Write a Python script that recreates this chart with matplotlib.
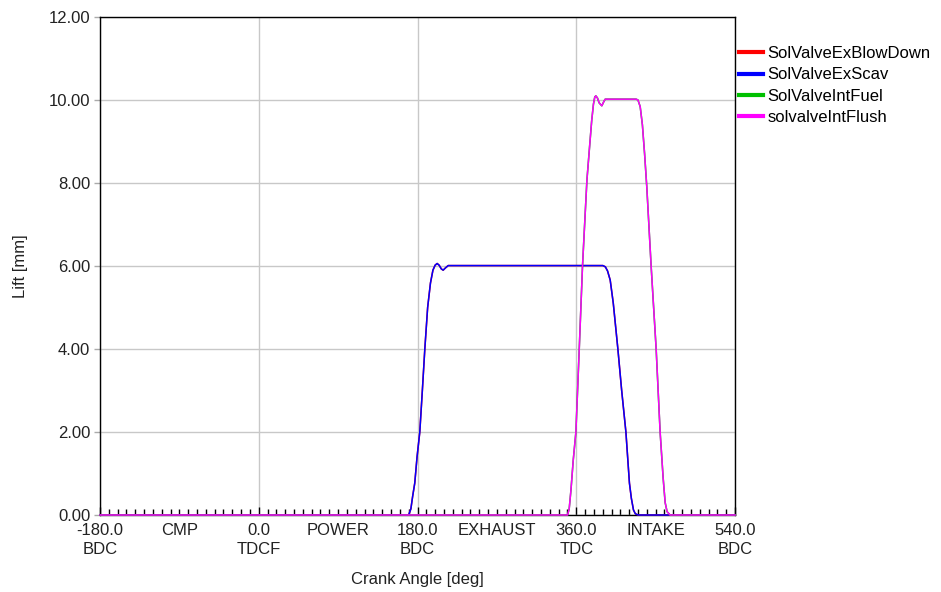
import numpy as np
import matplotlib
matplotlib.use("Agg")
import matplotlib.pyplot as plt
from matplotlib.ticker import MultipleLocator

plt.rcParams['font.family'] = ['Liberation Sans', 'DejaVu Sans']

# exhaust valve lift (BlowDown and Scav overlap)
ex_angle = [-180, 170.0, 172.5, 174.5, 176.9, 179.5, 182.6, 185.5, 188.3, 191.5, 194.7,
            197.5, 200.0, 202.3, 204.5, 207.0, 209.1, 211.5, 214.8, 390.2, 393.0, 395.5,
            398.5, 402.0, 407.2, 411.5, 416.3, 420.3, 422.5, 424.9, 427.0, 430.2, 540]
ex_lift = [0, 0, 0.15, 0.45, 0.77, 1.4, 2.0, 3.0, 4.0, 5.0, 5.59,
           5.9, 6.02, 6.06, 6.02, 5.93, 5.90, 5.95, 6.01, 6.01, 5.98, 5.88,
           5.66, 5.1, 4.0, 3.0, 2.0, 0.77, 0.4, 0.12, 0.03, 0, 0]

# intake valve lift (Fuel and Flush overlap)
int_angle = [-180, 350.2, 352.0, 354.0, 356.5, 359.6, 363.4, 367.1, 369.5, 372.1, 375.1,
             377.5, 379.5, 381.0, 382.2, 384.0, 386.0, 389.0, 391.0, 392.8, 427.9, 430.0,
             432.5, 435.0, 437.5, 440.0, 444.9, 450.6, 455.1, 458.5, 460.8, 463.0, 466.4, 540]
int_lift = [0, 0, 0.15, 0.6, 1.3, 2.0, 4.0, 6.0, 7.0, 8.07, 8.87,
            9.5, 9.9, 10.07, 10.1, 10.05, 9.93, 9.86, 9.95, 10.02, 10.02, 10.0,
            9.84, 9.4, 8.7, 7.9, 6.0, 4.0, 2.0, 0.9, 0.3, 0.08, 0, 0]

series_names = ['SolValveExBlowDown', 'SolValveExScav', 'SolValveIntFuel', 'solvalveIntFlush']
series_colors = ['#ff0000', '#0000ff', '#00c000', '#ff00ff']

major_ticks = [-180, 0, 180, 360, 540]
major_labels = ['-180.0\nBDC', '0.0\nTDCF', '180.0\nBDC', '360.0\nTDC', '540.0\nBDC']
phase_pos = [-90, 90, 270, 450]
phase_labels = ['CMP', 'POWER', 'EXHAUST', 'INTAKE']

FS = 12
TXT = '#222222'

fig = plt.figure(figsize=(9.41, 5.92), dpi=100)
ax = fig.add_axes([100 / 941, 1 - 515 / 592, 635 / 941, 498 / 592])

data = [(ex_angle, ex_lift), (ex_angle, ex_lift), (int_angle, int_lift), (int_angle, int_lift)]
for (x, y), name, col in zip(data, series_names, series_colors):
    ax.plot(x, y, color=col, lw=1.1, label=name, clip_on=False, zorder=3)

ax.set_xlim(-180, 540)
ax.set_ylim(0, 12)
ax.set_xticks(major_ticks)
ax.set_xticklabels(major_labels, fontsize=FS, color=TXT)
for lab in ax.get_xticklabels():
    lab.set_linespacing(1.3)
ax.xaxis.set_minor_locator(MultipleLocator(10))
ax.tick_params(axis='x', which='major', direction='in', length=6, width=1, pad=6)
ax.tick_params(axis='x', which='minor', direction='in', length=4, width=1)

ax.set_yticks(np.arange(0, 12.1, 2))
ax.set_yticklabels([f'{v:.2f}' for v in np.arange(0, 12.1, 2)], fontsize=FS, color=TXT)
ax.tick_params(axis='y', direction='out', length=4, width=1, color='#aaaaaa', pad=3)

ax.grid(True, which='major', color='#c8c8c8', lw=1)
ax.set_axisbelow(True)
for s in ax.spines.values():
    s.set_color('black')
    s.set_linewidth(1)

for p, t in zip(phase_pos, phase_labels):
    ax.annotate(t, xy=(p, 0), xycoords=ax.get_xaxis_transform(), xytext=(0, -6),
                textcoords='offset points', ha='center', va='top', fontsize=FS, color=TXT)

ax.set_xlabel('Crank Angle [deg]', fontsize=FS, color=TXT, labelpad=11)
ax.set_ylabel('Lift [mm]', fontsize=FS, color=TXT, labelpad=15)

leg = ax.legend(loc='upper left', bbox_to_anchor=(739 / 941, 1 - 46 / 592),
                bbox_transform=fig.transFigure, frameon=False, fontsize=FS,
                handlelength=1.45, handletextpad=0.25, labelspacing=0.38, borderaxespad=0,
                borderpad=0)
for h in leg.get_lines():
    h.set_linewidth(3)

fig.savefig('out.png', dpi=100)
